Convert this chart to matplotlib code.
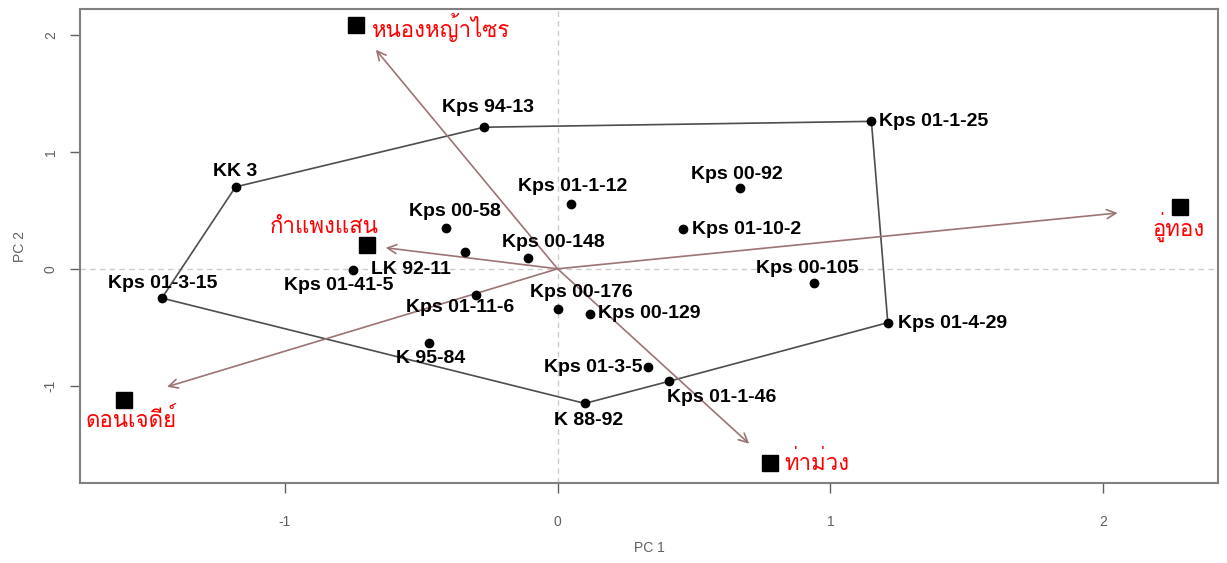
import matplotlib
matplotlib.use('Agg')
import matplotlib.pyplot as plt
from matplotlib import font_manager
from matplotlib.ft2font import FT2Font
import numpy as np

plt.rcParams['axes.unicode_minus'] = False

# genotype scores on the first two PCs
genotypes = ['Kps 94-13', 'Kps 01-1-25', 'KK 3', 'Kps 01-1-12', 'Kps 00-92',
             'Kps 00-58', 'Kps 01-10-2', 'LK 92-11', 'Kps 00-148', 'Kps 01-41-5',
             'Kps 01-3-15', 'Kps 00-105', 'Kps 01-11-6', 'Kps 00-176', 'Kps 00-129',
             'Kps 01-4-29', 'K 95-84', 'Kps 01-3-5', 'Kps 01-1-46', 'K 88-92']
g_pc1 = [-0.27, 1.15, -1.18, 0.05, 0.67, -0.41, 0.46, -0.34, -0.11, -0.75,
         -1.45, 0.94, -0.30, 0.00, 0.12, 1.21, -0.47, 0.33, 0.41, 0.10]
g_pc2 = [1.21, 1.26, 0.70, 0.55, 0.69, 0.35, 0.34, 0.14, 0.09, -0.01,
         -0.25, -0.12, -0.22, -0.34, -0.39, -0.46, -0.63, -0.84, -0.96, -1.15]

# environment scores
envs = ['หนองหญ้าไซร', 'อู่ทอง', 'กำแพงแสน', 'ดอนเจดีย์', 'ท่าม่วง']
e_pc1 = [-0.74, 2.28, -0.70, -1.59, 0.78]
e_pc2 = [2.08, 0.53, 0.20, -1.12, -1.66]

# polygon vertices (outer genotypes)
hull = ['KK 3', 'Kps 94-13', 'Kps 01-1-25', 'Kps 01-4-29', 'Kps 01-1-46',
        'K 88-92', 'Kps 01-3-15']

# label offsets in pixels (dx, dy, ha)
g_lab = {'Kps 94-13': (4, 20, 'center'), 'Kps 01-1-25': (8, 0, 'left'),
         'KK 3': (0, 15, 'center'), 'Kps 01-1-12': (1, 18, 'center'),
         'Kps 00-92': (-4, 14, 'center'), 'Kps 00-58': (9, 16, 'center'),
         'Kps 01-10-2': (9, 0, 'left'), 'LK 92-11': (-54, -17, 'center'),
         'Kps 00-148': (26, 16, 'center'), 'Kps 01-41-5': (-14, -16, 'center'),
         'Kps 01-3-15': (1, 15, 'center'), 'Kps 00-105': (-7, 14, 'center'),
         'Kps 01-11-6': (-16, -13, 'center'), 'Kps 00-176': (24, 16, 'center'),
         'Kps 00-129': (8, 1, 'left'), 'Kps 01-4-29': (10, -1, 'left'),
         'K 95-84': (1, -16, 'center'), 'Kps 01-3-5': (-5, 0, 'right'),
         'Kps 01-1-46': (52, -16, 'center'), 'K 88-92': (4, -17, 'center')}
e_lab = {'หนองหญ้าไซร': (16, -2, 'left'), 'อู่ทอง': (-1, -20, 'center'),
         'กำแพงแสน': (-42, 18, 'center'), 'ดอนเจดีย์': (7, -20, 'center'),
         'ท่าม่วง': (14, 0, 'left')}


def thai_font():
    for f in font_manager.fontManager.ttflist:
        try:
            if ord('ก') in FT2Font(f.fname).get_charmap():
                return f.name
        except Exception:
            pass
    return 'DejaVu Sans'


tfont = thai_font()

fig = plt.figure(figsize=(12.27, 5.63), dpi=100)
ax = fig.add_axes([80 / 1227, 1 - 483 / 563, (1218 - 80) / 1227, (483 - 9) / 563])

ax.axhline(0, color='#cccccc', ls=(0, (4, 3)), lw=1, zorder=0)
ax.axvline(0, color='#cccccc', ls=(0, (4, 3)), lw=1, zorder=0)

# arrows from origin towards each environment
for x, y in zip(e_pc1, e_pc2):
    ax.annotate('', xy=(0.9 * x, 0.9 * y), xytext=(0, 0),
                arrowprops=dict(arrowstyle='->', color='#9c7474', lw=1.2,
                                mutation_scale=16, shrinkA=0, shrinkB=0))

idx = {g: i for i, g in enumerate(genotypes)}
hx = [g_pc1[idx[g]] for g in hull] + [g_pc1[idx[hull[0]]]]
hy = [g_pc2[idx[g]] for g in hull] + [g_pc2[idx[hull[0]]]]
ax.plot(hx, hy, color='#4d4d4d', lw=1.2, zorder=2)

ax.plot(g_pc1, g_pc2, 'o', color='black', ms=6, zorder=3)
for g, x, y in zip(genotypes, g_pc1, g_pc2):
    dx, dy, ha = g_lab[g]
    ax.annotate(g, (x, y), xytext=(dx, dy), textcoords='offset pixels',
                ha=ha, va='center', fontsize=14, fontweight='bold',
                family='Liberation Sans', color='black', zorder=4)

ax.plot(e_pc1, e_pc2, 's', color='black', ms=11, zorder=3)
for e, x, y in zip(envs, e_pc1, e_pc2):
    dx, dy, ha = e_lab[e]
    ax.annotate(e, (x, y), xytext=(dx, dy), textcoords='offset pixels',
                ha=ha, va='center', fontsize=16, color='red',
                family=[tfont, 'DejaVu Sans'], zorder=4)

ax.set_xlim(-1.75, 2.42)
ax.set_ylim(-1.83, 2.22)
ax.set_xticks([-1, 0, 1, 2])
ax.set_yticks([-1, 0, 1, 2])
for s in ax.spines.values():
    s.set_color('#808080')
    s.set_linewidth(1.5)
ax.tick_params(colors='#606060', labelsize=10, length=7, width=1)
ax.tick_params(axis='x', pad=16)
ax.tick_params(axis='y', pad=9)
for lab in ax.get_xticklabels() + ax.get_yticklabels():
    lab.set_family('Liberation Sans')
plt.setp(ax.get_yticklabels(), rotation=90, va='center')
ax.set_xlabel('PC 1', color='#606060', fontsize=10, labelpad=9,
              family='Liberation Sans')
ax.set_ylabel('PC 2', color='#606060', fontsize=10, labelpad=12,
              family='Liberation Sans')

fig.savefig('out.png', dpi=100)
